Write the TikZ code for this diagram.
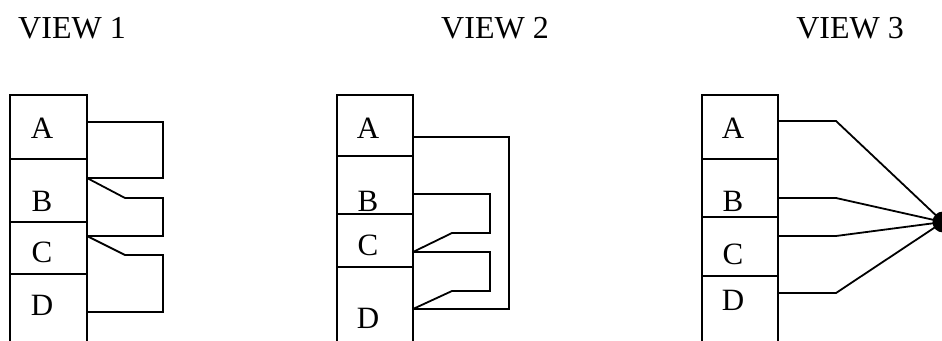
\documentclass[tikz,border=0pt]{standalone}
\usepackage{fontspec}
\setmainfont{Liberation Serif}
\tikzstyle{wire} = [line width=0.9pt,line join=miter]
\tikzstyle{title} = [anchor=base,inner sep=0pt,font=\fontsize{16}{19}\selectfont]
\tikzstyle{pinname} = [inner sep=0pt,font=\fontsize{15.5}{18}\selectfont]

\begin{document}
\begin{tikzpicture}[x=0.5pt,y=-0.5pt]
			\useasboundingbox (0,0) rectangle (942,341);
			\clip (0,0) rectangle (942,341);
			\node[title] (t1) at (72,39) {VIEW 1};
			\node[title] (t2) at (495,39) {VIEW 2};
			\node[title] (t3) at (850,39) {VIEW 3};
			
			\draw[wire] (10,95) rectangle (87,159);
			\draw[wire] (10,159) rectangle (87,222);
			\draw[wire] (10,222) rectangle (87,274);
			\draw[wire] (10,274) rectangle (87,360);
			\node[pinname] (a1) at (42,128) {A};
			\node[pinname] (b1) at (42,201) {B};
			\node[pinname] (c1) at (42,252) {C};
			\node[pinname] (d1) at (42,305) {D};
			\coordinate (p1a) at (87,122);
			\coordinate (p1b) at (87,178);
			\coordinate (p1c) at (87,236);
			\coordinate (p1d) at (87,312);
			\coordinate (k1b) at (125,198);
			\coordinate (k1d) at (125,255);
			\draw[wire] (p1a)--(163,122)--(163,178)--(p1b);
			\draw[wire] (p1b)--(k1b)--(163,198)--(163,236)--(p1c);
			\draw[wire] (p1c)--(k1d)--(163,255)--(163,312)--(p1d);
			
			\draw[wire] (337,95) rectangle (413,156);
			\draw[wire] (337,156) rectangle (413,214);
			\draw[wire] (337,214) rectangle (413,267);
			\draw[wire] (337,267) rectangle (413,360);
			\node[pinname] (a2) at (368,128) {A};
			\node[pinname] (b2) at (368,201) {B};
			\node[pinname] (c2) at (368,245) {C};
			\node[pinname] (d2) at (368,318) {D};
			\coordinate (p2a) at (413,137);
			\coordinate (p2b) at (413,194);
			\coordinate (p2c) at (413,252);
			\coordinate (p2d) at (413,309);
			\coordinate (k2b) at (452,233);
			\coordinate (k2d) at (452,291);
			\draw[wire] (p2a)--(509,137)--(509,309)--(p2d);
			\draw[wire] (p2b)--(490,194)--(490,233)--(k2b)--(p2c);
			\draw[wire] (p2c)--(490,252)--(490,291)--(k2d)--(p2d);
			
			\draw[wire] (702,95) rectangle (778,159);
			\draw[wire] (702,159) rectangle (778,217);
			\draw[wire] (702,217) rectangle (778,276);
			\draw[wire] (702,276) rectangle (778,360);
			\node[pinname] (a3) at (733,128) {A};
			\node[pinname] (b3) at (733,201) {B};
			\node[pinname] (c3) at (733,254) {C};
			\node[pinname] (d3) at (733,300) {D};
			\node[circle,fill,inner sep=0pt,minimum size=10.5pt] (dot) at (943,222) {};
			\coordinate (p3a) at (778,121);
			\coordinate (p3b) at (778,198);
			\coordinate (p3c) at (778,236);
			\coordinate (p3d) at (778,293);
			\draw[wire] (p3a)--(836,121)--(dot.center);
			\draw[wire] (p3b)--(836,198)--(dot.center);
			\draw[wire] (p3c)--(836,236)--(dot.center);
			\draw[wire] (p3d)--(836,293)--(dot.center);
			
		\end{tikzpicture}
\end{document}
